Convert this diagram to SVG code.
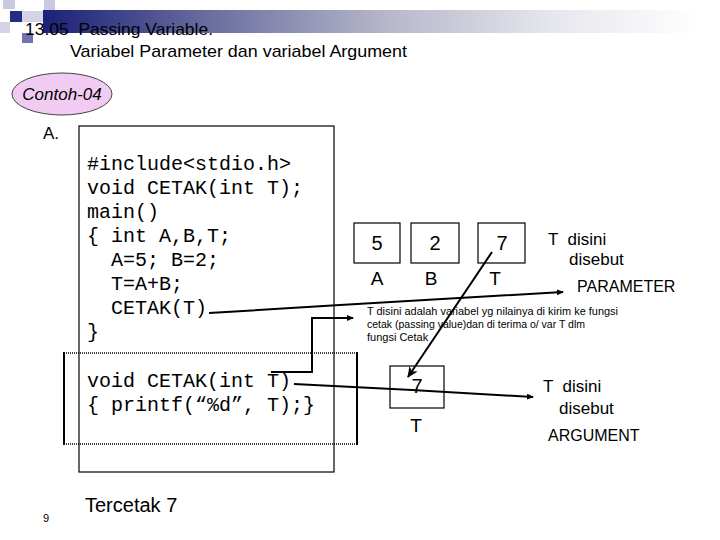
<svg xmlns="http://www.w3.org/2000/svg" width="720" height="540" viewBox="0 0 720 540">
<style>
.sans{font-family:"Liberation Sans",Arial,sans-serif;fill:#000}
.mono{font-family:"Liberation Mono","Courier New",monospace;font-size:20px;fill:#000}
.box{fill:none;stroke:#000;stroke-width:1.2}
.con{fill:none;stroke:#000;stroke-width:2}
</style>
<defs>
<linearGradient id="bar" gradientUnits="userSpaceOnUse" x1="43" y1="0" x2="720" y2="0">
<stop offset="0" stop-color="#1c2276"/>
<stop offset="0.05" stop-color="#2a2f80"/>
<stop offset="0.25" stop-color="#6c6f9f"/>
<stop offset="0.5" stop-color="#b4b5c9"/>
<stop offset="0.75" stop-color="#e6e6ed"/>
<stop offset="0.97" stop-color="#ffffff"/>
</linearGradient>
<marker id="sm" viewBox="0 0 8 8" refX="6" refY="4" markerWidth="8" markerHeight="8" markerUnits="userSpaceOnUse" orient="auto">
<path d="M0,1 L7,4 L0,7 z" fill="#000"/>
</marker>
<marker id="big" viewBox="0 0 12 12" refX="10" refY="6" markerWidth="12" markerHeight="12" markerUnits="userSpaceOnUse" orient="auto">
<path d="M0,1 L11,6 L0,11 L3,6 z" fill="#000"/>
</marker>
</defs>
<rect width="720" height="540" fill="#fff"/>

<g id="header">
<rect x="43" y="10" width="677" height="23" fill="url(#bar)"/>
<rect x="3" y="0" width="12" height="9" fill="#c9c9df"/>
<rect x="44" y="0" width="11" height="10" fill="#c9c9df"/>
<rect x="10" y="11" width="12" height="11" fill="#262b86"/>
<rect x="22" y="11" width="21" height="11" fill="#d4d4e6"/>
<rect x="0" y="22" width="10" height="11" fill="#d4d4e6"/>
<rect x="22" y="33" width="11" height="10" fill="#7073b0"/>
<text class="sans" x="25" y="35" font-size="17" xml:space="preserve" textLength="188" lengthAdjust="spacingAndGlyphs">13.05  Passing Variable.</text>
<text class="sans" x="70" y="57" font-size="17" textLength="337" lengthAdjust="spacingAndGlyphs">Variabel Parameter dan variabel Argument</text>
</g>

<g id="node-contoh">
<ellipse cx="62" cy="94" rx="50" ry="21" fill="#f2cbf2" stroke="#444" stroke-width="1"/>
<text class="sans" x="62" y="100" font-size="17" font-style="italic" text-anchor="middle">Contoh-04</text>
</g>

<text class="sans" x="43" y="139" font-size="17">A.</text>

<g id="node-code">
<rect class="box" x="79" y="126" width="255" height="346" stroke-width="1.5"/>
<text class="mono" x="87" y="170" xml:space="preserve">#include&lt;stdio.h&gt;</text>
<text class="mono" x="87" y="194" xml:space="preserve">void CETAK(int T);</text>
<text class="mono" x="87" y="218" xml:space="preserve">main()</text>
<text class="mono" x="87" y="242" xml:space="preserve">{ int A,B,T;</text>
<text class="mono" x="87" y="266" xml:space="preserve">  A=5; B=2;</text>
<text class="mono" x="87" y="290" xml:space="preserve">  T=A+B;</text>
<text class="mono" x="87" y="314" xml:space="preserve">  CETAK(T)</text>
<text class="mono" x="87" y="338" xml:space="preserve">}</text>
<text class="mono" x="87" y="387" xml:space="preserve">void CETAK(int T)</text>
<text class="mono" x="87" y="411" xml:space="preserve">{ printf(“%d”, T);}</text>
</g>

<g id="node-function-frame">
<line x1="64" y1="353" x2="357" y2="353" stroke="#000" stroke-width="1.5" stroke-dasharray="1,1"/>
<line x1="64" y1="444" x2="357" y2="444" stroke="#000" stroke-width="1.5" stroke-dasharray="1,1"/>
<line x1="64" y1="352" x2="64" y2="445" stroke="#000" stroke-width="2"/>
<line x1="357" y1="352" x2="357" y2="445" stroke="#000" stroke-width="2"/>
</g>

<g id="node-A">
<rect class="box" x="354" y="223" width="46" height="40"/>
<text class="sans" x="377" y="250" font-size="20" text-anchor="middle">5</text>
<text class="sans" x="377" y="285" font-size="19" text-anchor="middle">A</text>
</g>
<g id="node-B">
<rect class="box" x="411" y="223" width="48" height="40"/>
<text class="sans" x="435" y="250" font-size="20" text-anchor="middle">2</text>
<text class="sans" x="431" y="285" font-size="19" text-anchor="middle">B</text>
</g>
<g id="node-T-main">
<rect class="box" x="478" y="223" width="47" height="40"/>
<text class="sans" x="502" y="250" font-size="20" text-anchor="middle">7</text>
<text class="sans" x="495" y="285" font-size="19" text-anchor="middle">T</text>
</g>
<g id="node-T-func">
<rect class="box" x="390" y="366" width="54" height="42"/>
<text class="sans" x="417" y="393" font-size="20" text-anchor="middle">7</text>
<text class="sans" x="416" y="432" font-size="19" text-anchor="middle">T</text>
</g>

<g id="node-parameter-note">
<text class="sans" x="548" y="245" font-size="17" xml:space="preserve">T  disini</text>
<text class="sans" x="569" y="265" font-size="17">disebut</text>
<text class="sans" x="577" y="292" font-size="16">PARAMETER</text>
</g>
<g id="node-explanation">
<text class="sans" x="367" y="315" font-size="11" textLength="251" lengthAdjust="spacingAndGlyphs">T disini adalah variabel yg nilainya di kirim ke fungsi</text>
<text class="sans" x="367" y="328" font-size="11" textLength="218" lengthAdjust="spacingAndGlyphs">cetak (passing value)dan di terima o/ var T dlm</text>
<text class="sans" x="367" y="341" font-size="11">fungsi Cetak</text>
</g>
<g id="node-argument-note">
<text class="sans" x="543" y="392" font-size="17" xml:space="preserve">T  disini</text>
<text class="sans" x="559" y="414" font-size="17">disebut</text>
<text class="sans" x="548" y="441" font-size="16">ARGUMENT</text>
</g>

<g id="connectors">
<polyline class="con" points="209,313 340,305 563,292" marker-end="url(#sm)"/>
<polyline class="con" points="271,372 312,372 312,318 353,318" marker-end="url(#sm)"/>
<polyline class="con" points="294,384 412,390 533,397" marker-end="url(#sm)"/>
<line class="con" x1="492" y1="252" x2="408" y2="377" marker-end="url(#big)"/>
</g>

<text class="sans" x="85" y="512" font-size="20">Tercetak 7</text>
<text class="sans" x="43" y="522" font-size="11">9</text>
</svg>
